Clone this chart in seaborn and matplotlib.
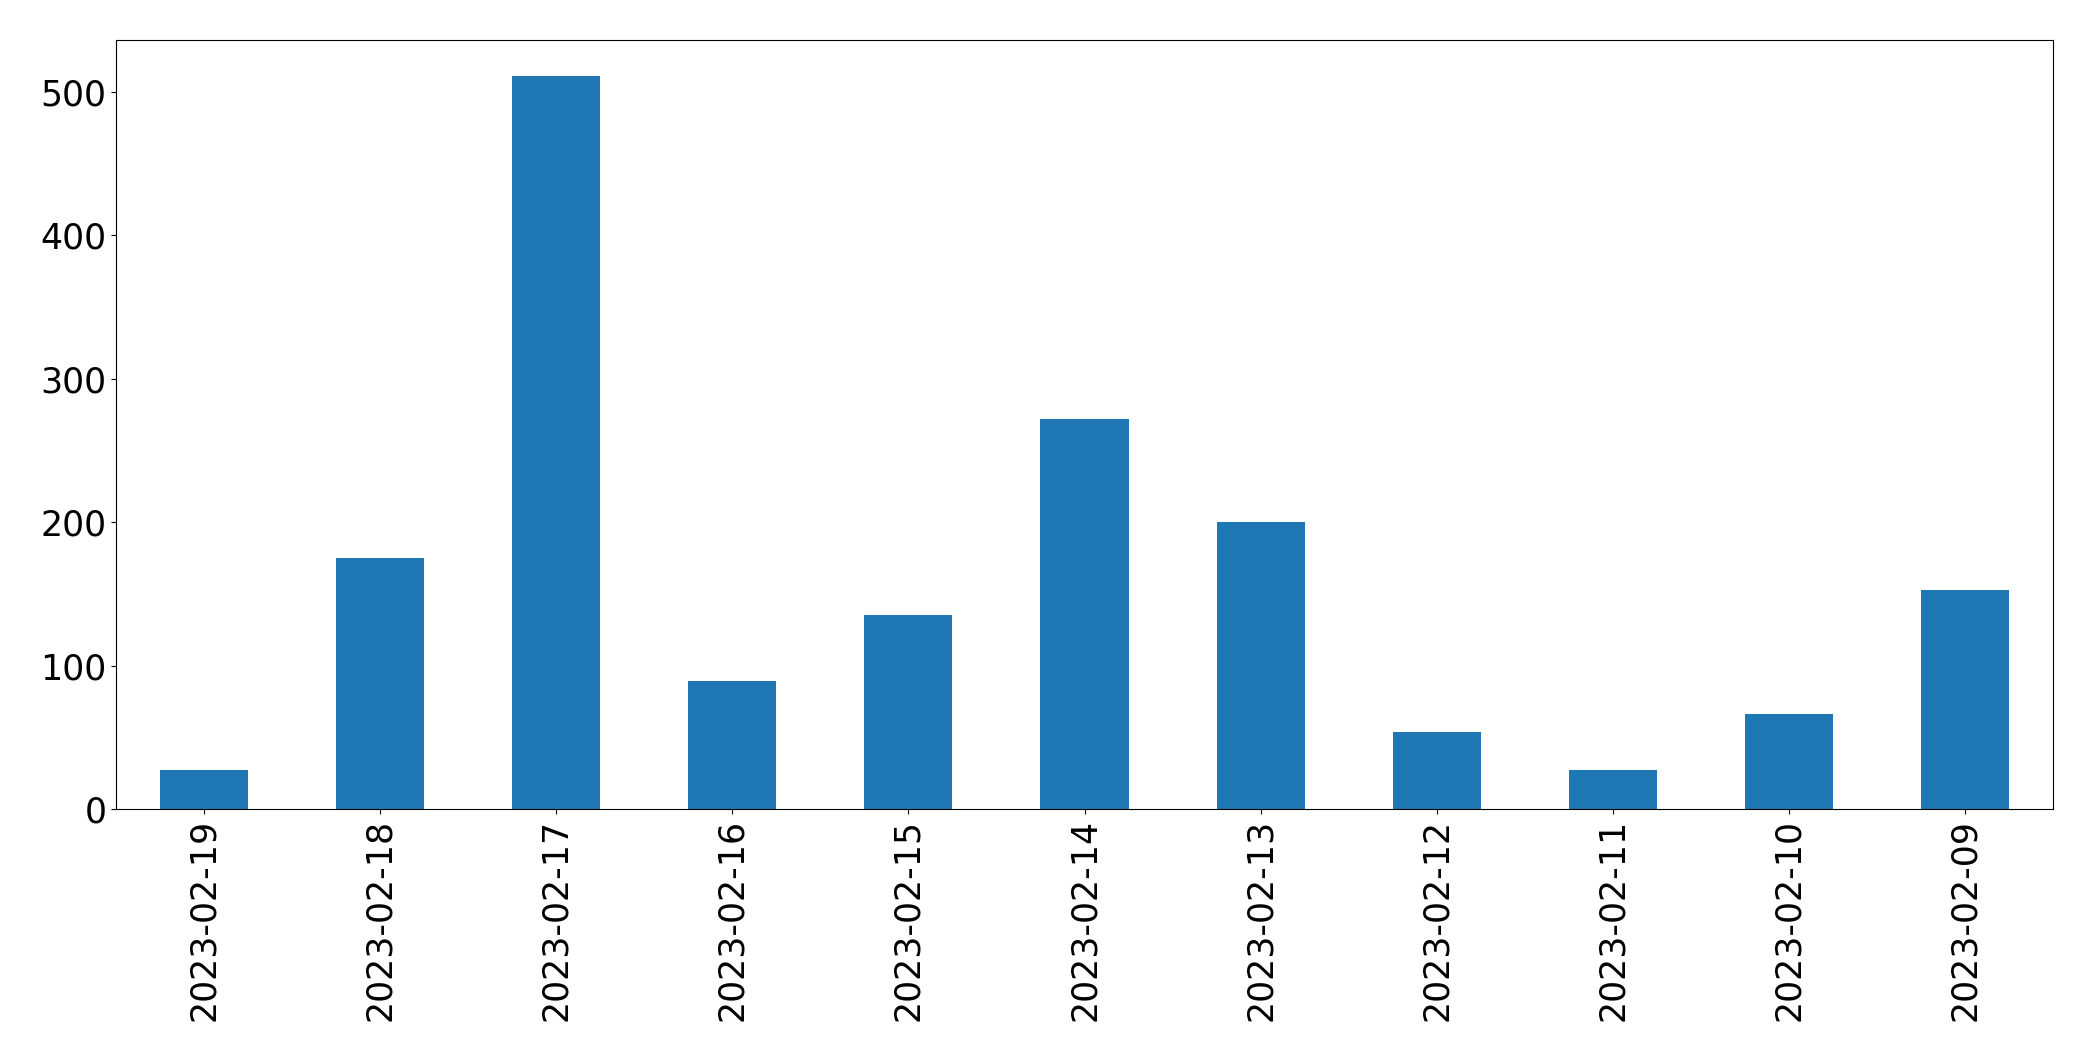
import matplotlib
matplotlib.use("Agg")
import matplotlib.pyplot as plt
import seaborn as sns
import pandas as pd

dates = ["2023-02-19", "2023-02-18", "2023-02-17", "2023-02-16", "2023-02-15",
         "2023-02-14", "2023-02-13", "2023-02-12", "2023-02-11", "2023-02-10",
         "2023-02-09"]
counts = [27, 175, 511, 89, 135, 272, 200, 54, 27, 66, 153]

df = pd.DataFrame({"date": dates, "count": counts})

fig = plt.figure(figsize=(20.93, 10.61), dpi=100)
ax = fig.add_axes([116 / 2093, 1 - 809 / 1061, (2053 - 116) / 2093, (809 - 39.5) / 1061])
sns.barplot(data=df, x="date", y="count", order=dates, color="#1f77b4",
            saturation=1, width=0.5, linewidth=0, ax=ax)
ax.set_xlim(-0.5, len(dates) - 0.5)
ax.set_ylim(0, max(counts) * 1.05)
ax.set_xlabel("")
ax.set_ylabel("")
for s in ax.spines.values():
    s.set_color("black")
ax.tick_params(axis="both", labelsize=25)
ax.tick_params(axis="x", labelrotation=90)
fig.savefig("out.png", dpi=100)
